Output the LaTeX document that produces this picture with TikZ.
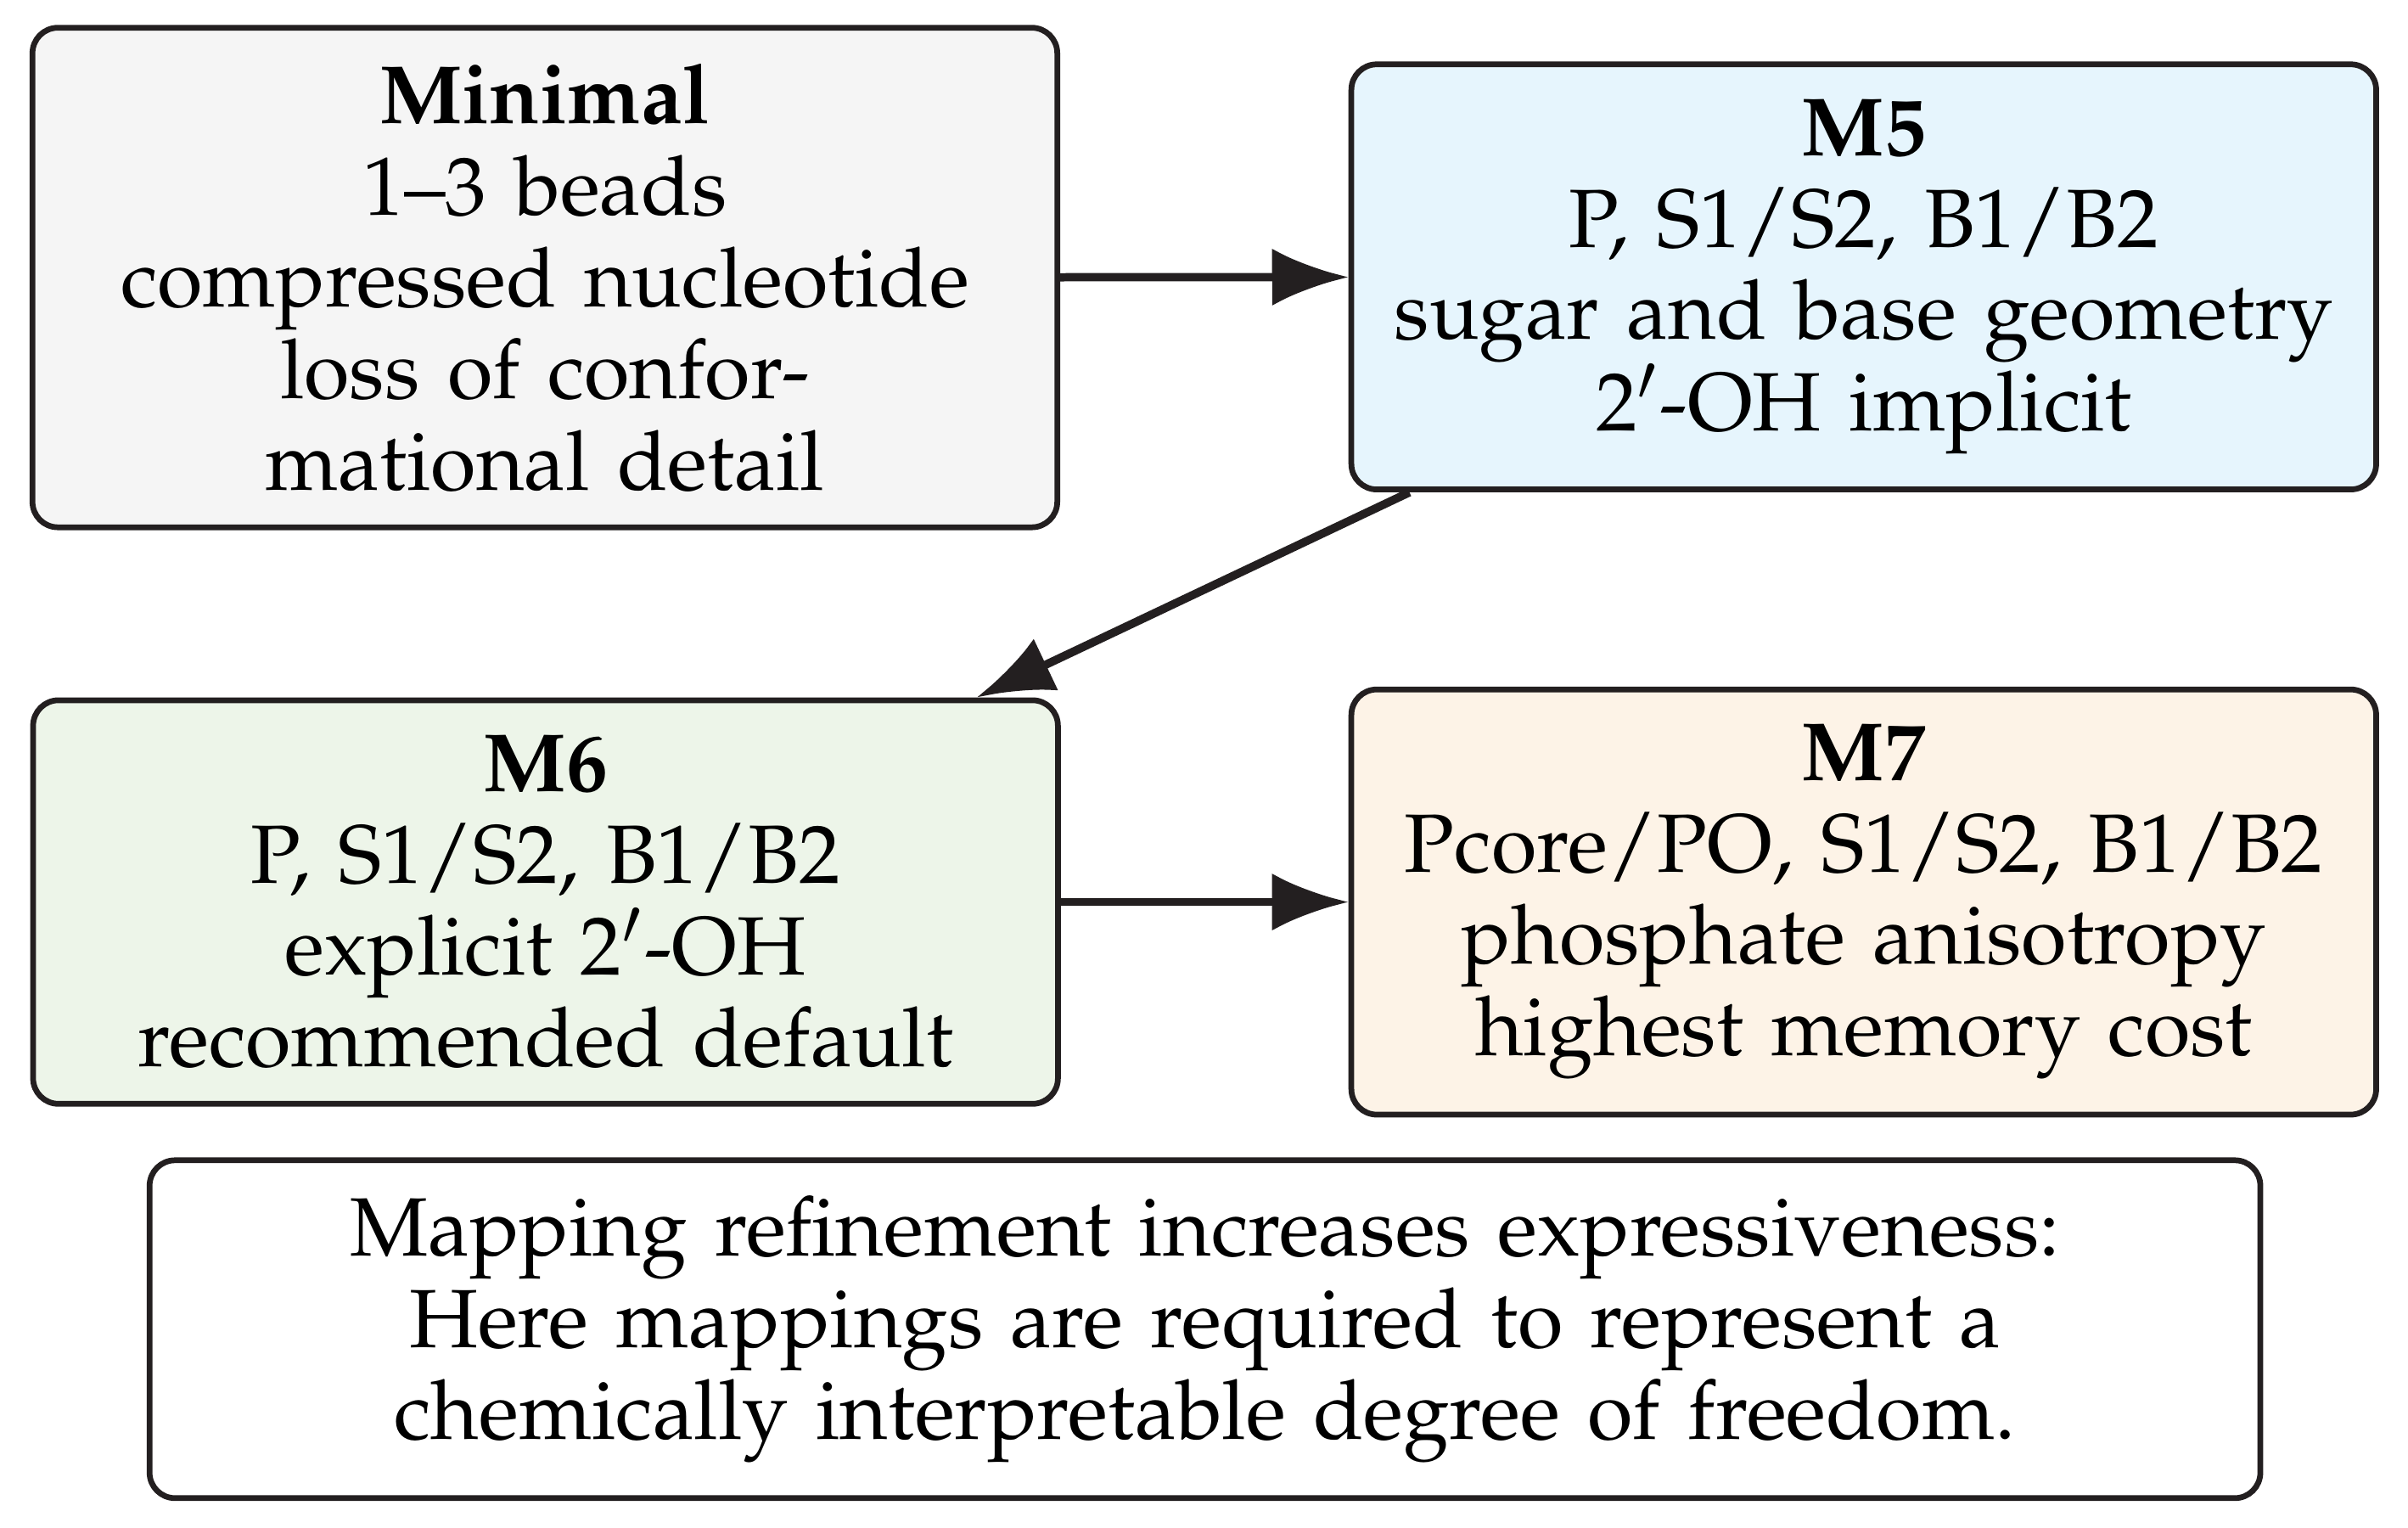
\documentclass[tikz,border=0pt]{standalone}
\usepackage[T1]{fontenc}
\usepackage{mathpazo}
\usepackage{xcolor}
\usepackage{tikz}
\usetikzlibrary{arrows.meta}
\definecolor{Ink}{RGB}{35,31,32}
\definecolor{MinFill}{RGB}{245,245,245}
\definecolor{MFiveFill}{RGB}{230,245,253}
\definecolor{MSixFill}{RGB}{237,245,233}
\definecolor{MSevenFill}{RGB}{253,243,231}
\tikzset{
mapbox/.style={draw=Ink,line width=0.9pt,rounded corners=4pt,inner sep=5.6pt,
  text width=149.8pt,align=center,font=\fontsize{13}{14.4}\selectfont},
flowarrow/.style={draw=Ink,line width=1.3pt,-{Latex[length=12pt,width=9pt]}}
}

\begin{document}
\begin{tikzpicture}[x=1pt,y=1pt]
\useasboundingbox (0,0) rectangle (378.3,240);
% mapping levels
\node[mapbox,fill=MinFill] (minimal) at (85.6,196.4)
  {\textbf{Minimal}\\1--3 beads\\compressed nucleotide\\loss of confor-\\mational detail};
\node[mapbox,fill=MFiveFill] (m5) at (292.8,196.5)
  {\textbf{M5}\\P, S1/S2, B1/B2\\sugar and base geometry\\2$'$-OH implicit};
\node[mapbox,fill=MSixFill] (m6) at (85.7,98.3)
  {\textbf{M6}\\P, S1/S2, B1/B2\\explicit 2$'$-OH\\recommended default};
\node[mapbox,fill=MSevenFill] (m7) at (292.8,98.3)
  {\textbf{M7}\\Pcore/PO, S1/S2, B1/B2\\phosphate anisotropy\\highest memory cost};
% summary
\node[mapbox,fill=white,text width=320.4pt] (note) at (189.3,31.2)
  {Mapping refinement increases expressiveness:\\Here mappings are required to represent a\\chemically interpretable degree of freedom.};
% refinement steps
\draw[flowarrow] (minimal) -- (m5);
\draw[flowarrow] (m5) -- (m6);
\draw[flowarrow] (m6) -- (m7);
\end{tikzpicture}
\end{document}
